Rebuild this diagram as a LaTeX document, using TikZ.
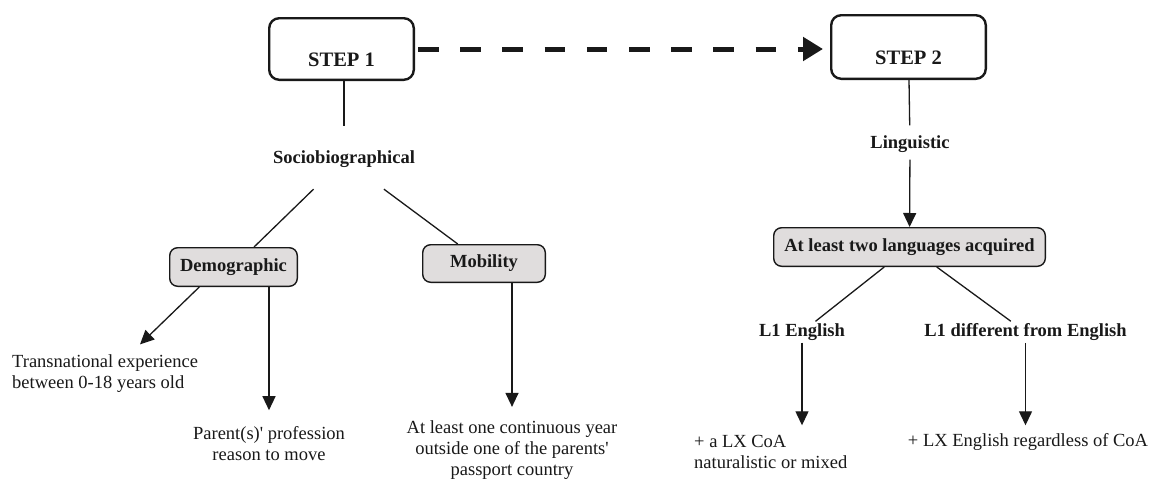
\documentclass[tikz,border=0pt]{standalone}
\usepackage{fontspec}
\setmainfont{Liberation Serif}
\usetikzlibrary{arrows.meta,calc}
\definecolor{boxgray}{RGB}{224,221,221}
\definecolor{ink}{RGB}{25,25,25}
\begin{document}
\begin{tikzpicture}[x=1pt,y=-1pt,
  txt/.style={font=\fontsize{18.5}{21}\selectfont, inner sep=0pt, text=ink},
  lbl/.style={font=\fontsize{18.5}{21}\selectfont\bfseries, inner sep=0pt, text=ink},
  stepbox/.style={draw=ink, line width=2.4pt, rounded corners=10pt, inner xsep=0pt, inner ysep=0pt, font=\fontsize{20.5}{22}\selectfont\bfseries, text=ink},
  graybox/.style={draw=ink, fill=boxgray, line width=1.4pt, rounded corners=8pt, inner sep=0pt, font=\fontsize{18.5}{21}\selectfont\bfseries, text=ink},
  conn/.style={draw=ink, line width=1.3pt},
  arr/.style={conn, -{Triangle[length=14pt,width=13pt]}},
  dasharr/.style={draw=ink, line width=5pt, dash pattern=on 20.5pt off 21.7pt, dash phase=39.2pt, -{Triangle[length=20pt,width=23pt]}},
]
\fill[white] (0,0) rectangle (1154,479);
\useasboundingbox (0,0) rectangle (1154,479);

% STEP boxes
\node[stepbox, minimum width=144.6pt, text height=48.6pt, text depth=13pt] (s1) at (341.5,49) {STEP 1};
\node[stepbox, minimum width=154.6pt, text height=49.6pt, text depth=14pt] (s2) at (908.5,47) {STEP 2};
\draw[dasharr, shorten >=7pt] (s1.east) -- (s1.east -| s2.west);

% left branch
\node[lbl, inner ysep=21pt] (soc) at (344,159.5) {Sociobiographical};
\draw[conn, shorten >=4pt] (s1.south -| soc.north) -- (soc.north);
\node[graybox, minimum width=127.6pt, minimum height=38.6pt] (demo) at (233.5,267) {Demographic};
\node[graybox, minimum width=122.6pt, minimum height=37.6pt] (mob) at (484,263.5) {Mobility};
\draw[conn] (soc) -- (demo);
\draw[conn] (soc) -- (mob);

\node[txt, anchor=west, align=left] (trans) at (12,373.5) {Transnational experience\\between 0-18 years old};
\node[txt, align=center] (par) at (269,443.5) {Parent(s)\textquotesingle{} profession\\reason to move};
\node[txt, align=center] (atl) at (512,450.5) {At least one continuous year\\outside one of the parents\textquotesingle\\passport country};

\draw[arr] ($(demo.south west)+(30.3,0)$) -- ($(trans.north west)+(128,-10)$);
\draw[arr, shorten >=16pt] (par.north |- demo.south) -- (par.north);
\draw[arr, shorten >=14pt] (atl.north |- mob.south) -- (atl.north);

% right branch
\node[lbl, inner ysep=7pt] (ling) at (910,144) {Linguistic};
\draw[conn, shorten >=3pt] (s2) -- (ling);
\node[graybox, minimum width=271.6pt, minimum height=38.6pt] (lang) at (909.5,247) {At least two languages acquired};
\draw[arr] (ling) -- (lang);

\node[lbl, inner sep=2pt] (l1e) at (802,332) {L1 English};
\node[lbl, inner sep=2pt] (l1d) at (1025.5,332) {L1 different from English};
\draw[conn] (lang) -- (l1e);
\draw[conn] (lang) -- (l1d);

\node[txt, anchor=west, align=left] (lxa) at (694,451.5) {+ a LX CoA\\naturalistic or mixed};
\node[txt] (lxe) at (1028,442) {+ LX English regardless of CoA};
\draw[arr, shorten >=8pt] (l1e.south) -- (l1e.south |- lxe.north);
\draw[arr, shorten >=8pt] (l1d.south) -- (l1d.south |- lxe.north);
\end{tikzpicture}
\end{document}
